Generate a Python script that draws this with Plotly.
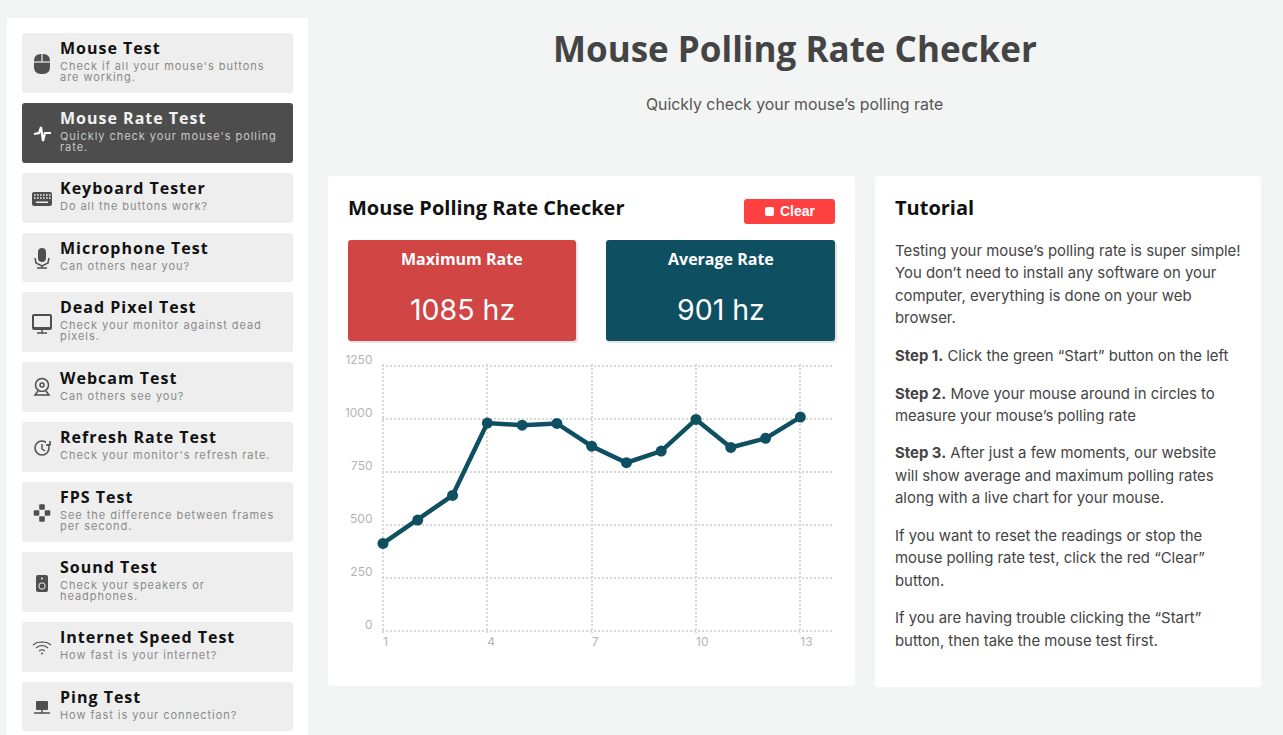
import json
import plotly.graph_objects as go

W, H = 1283, 735

# chart data
samples = list(range(1, 14))
rates = [413, 523, 639, 980, 970, 978, 871, 793, 848, 997, 865, 908, 1008]
y_ticks = [0, 250, 500, 750, 1000, 1250]
x_ticks = [1, 4, 7, 10, 13]

# page text
page_title = "Mouse Polling Rate Checker"
page_subtitle = "Quickly check your mouse’s polling rate"
card_title = "Mouse Polling Rate Checker"
stat_titles = ["Maximum Rate", "Average Rate"]
stat_values = ["1085 hz", "901 hz"]
menu_titles = ["Mouse Test", "Mouse Rate Test", "Keyboard Tester", "Microphone Test",
               "Dead Pixel Test", "Webcam Test", "Refresh Rate Test", "FPS Test",
               "Sound Test", "Internet Speed Test", "Ping Test"]
menu_subs = [["Check if all your mouse's buttons", "are working."],
             ["Quickly check your mouse's polling", "rate."],
             ["Do all the buttons work?"],
             ["Can others hear you?"],
             ["Check your monitor against dead", "pixels."],
             ["Can others see you?"],
             ["Check your monitor's refresh rate."],
             ["See the difference between frames", "per second."],
             ["Check your speakers or", "headphones."],
             ["How fast is your internet?"],
             ["How fast is your connection?"]]
tutorial_lines = ["Testing your mouse’s polling rate is super simple!",
                  "You don’t need to install any software on your",
                  "computer, everything is done on your web",
                  "browser.",
                  "<b>Step 1.</b> Click the green “Start” button on the left",
                  "<b>Step 2.</b> Move your mouse around in circles to",
                  "measure your mouse’s polling rate",
                  "<b>Step 3.</b> After just a few moments, our website",
                  "will show average and maximum polling rates",
                  "along with a live chart for your mouse.",
                  "If you want to reset the readings or stop the",
                  "mouse polling rate test, click the red “Clear”",
                  "button.",
                  "If you are having trouble clicking the “Start”",
                  "button, then take the mouse test first."]

# pixel layout
menu_boxes = [(33, 93), (103, 163), (173, 223), (233, 282), (292, 352), (362, 412),
              (422, 472), (482, 542), (552, 612), (622, 672), (682, 731)]
menu_title_y = [48, 118, 188, 248, 307, 378, 437, 497, 567, 637, 697]
menu_sub_y = [66, 136, 206, 266, 325, 396, 455, 515, 585, 655, 715]
tutorial_y = [251, 273, 296, 318, 356, 394, 416, 453, 476, 498, 536, 558, 581, 618, 641]
ACTIVE = 1
DARK = "#4d4d4d"
TEAL = "#0e5062"
RED = "#d14545"


def px(x):
    return x / W


def py(y):
    return 1 - y / H


def pt(x, y):
    return f"{px(x):.5f},{py(y):.5f}"


shapes = []
annotations = []
spacing = {}


def round_box(x0, y0, x1, y1, r, fill):
    d = (f"M{pt(x0 + r, y0)} L{pt(x1 - r, y0)} Q{pt(x1, y0)} {pt(x1, y0 + r)} "
         f"L{pt(x1, y1 - r)} Q{pt(x1, y1)} {pt(x1 - r, y1)} L{pt(x0 + r, y1)} "
         f"Q{pt(x0, y1)} {pt(x0, y1 - r)} L{pt(x0, y0 + r)} Q{pt(x0, y0)} {pt(x0 + r, y0)} Z")
    shapes.append(dict(type="path", xref="paper", yref="paper", path=d, fillcolor=fill,
                       line_width=0, layer="below"))


def poly(points, color, width=0, fill=True, close=True):
    d = "M" + " L".join(pt(x, y) for x, y in points) + (" Z" if close else "")
    shapes.append(dict(type="path", xref="paper", yref="paper", path=d,
                       fillcolor=color if fill else "rgba(0,0,0,0)",
                       line=dict(color=color, width=width), layer="below"))


def circle(cx, cy, r, color, width=0, fill=True):
    shapes.append(dict(type="circle", xref="paper", yref="paper",
                       x0=px(cx - r), x1=px(cx + r), y0=py(cy + r), y1=py(cy - r),
                       fillcolor=color if fill else "rgba(0,0,0,0)",
                       line=dict(color=color, width=width), layer="below"))


def text(x, y, s, size, color, family="Inter", anchor="left", ls=None):
    if ls is not None:
        spacing[len(annotations)] = ls
    annotations.append(dict(xref="paper", yref="paper", x=px(x), y=py(y), text=s,
                            showarrow=False, xanchor=anchor, yanchor="middle", align=anchor,
                            borderpad=0, borderwidth=0,
                            font=dict(family=family, size=size, color=color)))


def draw_icons():
    c = "#4f4f4f"
    # mouse
    round_box(34, 54, 50, 74, 7, c)
    poly([(42, 54), (42, 62)], "#eeeeee", 1.2, False, False)
    poly([(34, 62), (50, 62)], "#eeeeee", 1.2, False, False)
    # pulse
    poly([(34, 134), (39, 133), (41, 127), (43, 141), (45, 133), (51, 133)], "#ffffff", 2.2, False, False)
    # keyboard
    round_box(32, 192, 52, 206, 2, c)
    for row in (195, 198):
        for kx in range(34, 50, 3):
            round_box(kx, row - 0.7, kx + 1.6, row + 0.7, 0, "#eeeeee")
    round_box(36, 201.5, 48, 203, 0, "#eeeeee")
    # microphone
    round_box(38, 248, 46, 262, 4, c)
    poly([(35, 258), (36, 263), (42, 266), (48, 263), (49, 258)], c, 1.5, False, False)
    poly([(42, 266), (42, 268), (37, 268), (47, 268)], c, 1.5, False, False)
    # monitor
    round_box(32, 314, 52, 330, 2, c)
    round_box(34, 316, 50, 327, 0, "#eeeeee")
    poly([(42, 330), (42, 333), (37, 333), (47, 333)], c, 1.5, False, False)
    # webcam
    circle(42, 385, 6.5, c, 1.5, False)
    circle(42, 385, 2, c, 1.5, False)
    round_box(35, 392, 49, 396, 2, "#eeeeee")
    poly([(38, 391), (35, 395), (49, 395), (46, 391)], c, 1.5, False, False)
    # refresh
    circle(42, 448, 7, c, 1.6, False)
    poly([(42, 444), (42, 449), (45, 451)], c, 1.4, False, False)
    round_box(46, 439, 51, 444, 0, "#eeeeee")
    poly([(46, 445), (50, 445), (50, 441)], c, 1.6, False, False)
    # gamepad
    for cx, cy in [(42, 507), (36.5, 513), (47.5, 513), (42, 519)]:
        round_box(cx - 2.8, cy - 2.8, cx + 2.8, cy + 2.8, 1, c)
    # speaker
    round_box(36, 575, 48, 592, 2, c)
    circle(42, 586, 3.2, "#eeeeee", 1, False)
    circle(42, 578.5, 1, "#eeeeee")
    # wifi
    poly([(33, 645), (37, 642.5), (42, 642), (47, 642.5), (51, 645)], c, 1.1, False, False)
    poly([(36, 648), (39, 646), (42, 645.5), (45, 646), (48, 648)], c, 1.1, False, False)
    poly([(39, 651), (42, 649.5), (45, 651)], c, 1.1, False, False)
    circle(42, 653.5, 1, c)
    # ping
    round_box(36, 701, 48, 710, 1, c)
    poly([(42, 710), (42, 713)], c, 1.5, False, False)
    poly([(34, 713), (50, 713)], c, 1.5, False, False)


# sidebar
round_box(7, 18, 308, 760, 0, "#ffffff")
for i, (y0, y1) in enumerate(menu_boxes):
    active = i == ACTIVE
    round_box(22, y0, 293, y1, 3, DARK if active else "#eeeeee")
    text(60, menu_title_y[i], f"<b>{menu_titles[i]}</b>", 16, "#f2f2f2" if active else "#111111",
         "Open Sans", ls="1px")
    for j, line in enumerate(menu_subs[i]):
        text(60, menu_sub_y[i] + j * 11, line, 11, "#c8c8c8" if active else "#8a8a8a", ls="0.95px")
draw_icons()

# page header
text(795, 49, f"<b>{page_title}</b>", 35, "#444444", "Open Sans", "center")
text(794.5, 104, page_subtitle, 15.85, "#555555", "Inter", "center")

# chart card
round_box(328, 176, 855, 686, 3, "#ffffff")
text(348, 207, f"<b>{card_title}</b>", 20, "#111111", "Open Sans")
round_box(744, 199, 835, 224, 3, "#ff4040")
round_box(765, 207, 774, 216, 2, "#ffffff")
text(780, 211, "<b>Clear</b>", 14, "#ffffff", "Liberation Sans")

stat_boxes = [(348, 576, RED), (606, 835, TEAL)]
for (x0, x1, color), title, value in zip(stat_boxes, stat_titles, stat_values):
    round_box(x0 + 1, 242, x1 + 2, 343, 3, "#e4e4e4")
    round_box(x0, 240, x1, 341, 3, color)
    text((x0 + x1) / 2, 259, f"<b>{title}</b>", 16, "#ffffff", "Open Sans", "center")
    text((x0 + x1) / 2, 309.5, value, 28.5, "#ffffff", "Inter", "center")

# tutorial card
round_box(875, 176, 1261, 687, 3, "#ffffff")
text(895, 207, "<b>Tutorial</b>", 20, "#111111", "Open Sans")
for line, y in zip(tutorial_lines, tutorial_y):
    text(895, y, line, 14.9, "#444444")

fig = go.Figure()
fig.add_trace(go.Scatter(x=samples, y=rates, mode="lines+markers", cliponaxis=False,
                         line=dict(color=TEAL, width=4.5),
                         marker=dict(color=TEAL, size=11), showlegend=False))

tick_font = dict(family="Inter", size=12, color="#b4b4b4")
# ranges run 1.5px past the end ticks, plotly drops gridlines within 1px of the edge
fig.update_layout(
    width=W, height=H, margin=dict(l=0, r=0, t=0, b=0, autoexpand=False), autosize=False,
    paper_bgcolor="#f3f4f4", plot_bgcolor="rgba(0,0,0,0)",
    shapes=shapes, annotations=annotations, showlegend=False,
    xaxis=dict(domain=[px(381.5), px(832.7)], range=[0.957, 13.93], tickmode="array",
               tickvals=x_ticks, ticktext=[str(v) for v in x_ticks], showgrid=True,
               griddash="2px,2px", gridcolor="#d8d8d8", gridwidth=1.5, zeroline=False,
               showline=False, ticks="", tickfont=tick_font, ticklabelposition="outside right",
               ticklabelstandoff=0),
    yaxis=dict(domain=[py(632.8), py(364)], range=[-8, 1258], tickmode="array",
               tickvals=y_ticks, ticktext=[str(v) for v in y_ticks], showgrid=True,
               griddash="2px,2px", gridcolor="#d8d8d8", gridwidth=1.5, zeroline=False,
               showline=False, ticks="", tickfont=tick_font, ticklabelshift=-6,
               ticklabelstandoff=8),
)

# plotly has no letter-spacing option, the sidebar text needs it
post_script = """
document.body.style.margin = '0';
var spacing = %s;
Object.keys(spacing).forEach(function (i) {
    var t = document.querySelector('.annotation[data-index="' + i + '"] text');
    if (t) { t.style.letterSpacing = spacing[i]; }
});
""" % json.dumps(spacing)

fig.write_html("out.html", config={"displayModeBar": False}, post_script=post_script)
